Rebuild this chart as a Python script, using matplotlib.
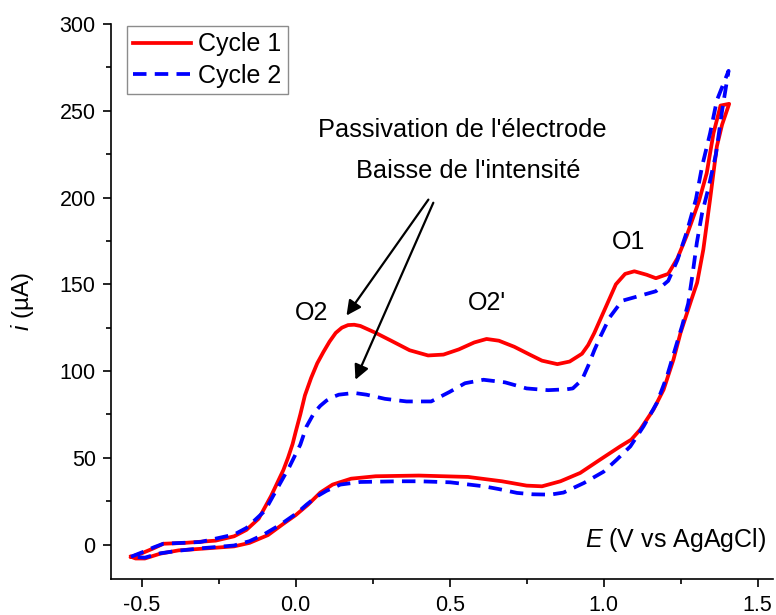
import matplotlib
matplotlib.use('Agg')
import matplotlib.pyplot as plt
from matplotlib.ticker import MultipleLocator

plt.rcParams['font.family'] = ['Liberation Sans', 'DejaVu Sans']
plt.rcParams['mathtext.fontset'] = 'custom'
plt.rcParams['mathtext.rm'] = 'Liberation Sans'
plt.rcParams['mathtext.it'] = 'Liberation Sans:italic'

# Cycle 1 : aller (anodique) puis retour
E1 = [-0.535, -0.50, -0.46, -0.43, -0.36, -0.26, -0.20, -0.16, -0.12, -0.08,
      -0.04, -0.025, -0.01, 0.0, 0.015, 0.03, 0.05, 0.07, 0.09, 0.11,
      0.13, 0.15, 0.17, 0.19, 0.21, 0.235, 0.26, 0.31,
      0.37, 0.43, 0.48, 0.53, 0.58, 0.62, 0.66, 0.71, 0.76, 0.80,
      0.85, 0.89, 0.93, 0.95, 0.97, 0.99, 1.01, 1.04, 1.07, 1.10, 1.14, 1.17,
      1.21, 1.24, 1.27, 1.29, 1.31, 1.335, 1.357, 1.38, 1.408,
      1.385, 1.368, 1.346, 1.324, 1.304, 1.285, 1.25, 1.227, 1.195, 1.162,
      1.119, 1.09, 1.054, 0.989, 0.924, 0.86, 0.80, 0.75, 0.67, 0.56,
      0.40, 0.26, 0.18, 0.12, 0.08, 0.04, 0.0, -0.04, -0.09, -0.15,
      -0.20, -0.30, -0.38, -0.44, -0.49, -0.52, -0.535]
I1 = [-7, -5, -2, 0.5, 1, 2.3, 4.8, 8.5, 15, 28,
      43, 50, 58, 65, 75, 86, 96, 104.5, 111, 117,
      122, 125, 126.5, 126.7, 126, 124, 122, 117.5,
      112, 109, 109.5, 112.5, 116.5, 118.5, 117.5, 114, 109.5, 106,
      104, 105.5, 110, 115, 122, 130, 138, 150, 156, 157.5, 155.5, 153.5,
      156, 165, 178, 188, 198, 214, 237, 253, 254,
      242, 229.5, 199, 170, 151, 141, 122, 106.6, 89.3, 77.8,
      66.3, 60.5, 56.6, 49, 41.3, 36.5, 33.6, 34, 36.5, 39,
      39.8, 39.4, 38, 34.6, 30, 23, 17, 12, 5.5, 1,
      -1, -2.3, -3.3, -5.2, -8, -8, -7]

# Cycle 2
E2 = [-0.535, -0.50, -0.46, -0.43, -0.31, -0.20, -0.16, -0.10, -0.05, -0.02,
      0.015, 0.035, 0.06, 0.08, 0.10, 0.12, 0.14, 0.19, 0.23, 0.29, 0.36, 0.44, 0.50,
      0.55, 0.61, 0.68, 0.75, 0.82, 0.88, 0.90, 0.93, 0.95, 0.97, 0.99, 1.02,
      1.06, 1.11, 1.17, 1.21, 1.24, 1.27, 1.30, 1.32, 1.346, 1.368, 1.406,
      1.385, 1.365, 1.34, 1.32, 1.303, 1.29, 1.275, 1.255, 1.238, 1.206,
      1.173, 1.13, 1.087, 1.043, 1.0, 0.936, 0.87, 0.827, 0.77, 0.719,
      0.66, 0.611, 0.502, 0.40, 0.34, 0.21, 0.145, 0.10, 0.069, 0.035,
      0.005, -0.05, -0.104, -0.15, -0.20, -0.30, -0.38, -0.44, -0.49, -0.535]
I2 = [-7, -4.5, -1.5, 0.5, 1.5, 5.8, 9.6, 19.5, 35.5, 45,
      57.6, 68, 76, 80, 83, 85, 86.4, 87.4, 86.4, 84, 82.5, 82.5, 88,
      93, 95, 93.5, 90, 89, 89.5, 90, 95, 103, 112, 120, 131,
      140.5, 143, 146, 152, 164, 180, 199, 218, 237, 256, 273,
      250, 225, 205, 191, 174, 157, 139, 126, 116, 97,
      81.6, 68.2, 56.6, 49, 42, 35.5, 30, 28.8, 29, 29.8,
      32, 33.6, 35.9, 36.5, 36.5, 36.1, 34.6, 31, 27.8, 23,
      18.3, 11.5, 5.8, 2, -0.5, -2, -3.5, -5, -7.5, -7]

fig = plt.figure(figsize=(7.76, 6.15), dpi=100)
ax = fig.add_axes([0.143, 0.058, 0.853, 0.903])

ax.plot(E1, I1, color='#ff0000', lw=2.7, label='Cycle 1')
ax.plot(E2, I2, color='#0000ff', lw=2.7, dashes=(3.6, 2.2), label='Cycle 2')

ax.set_xlim(-0.6, 1.55)
ax.set_ylim(-20, 300)
ax.xaxis.set_major_locator(MultipleLocator(0.5))
ax.xaxis.set_minor_locator(MultipleLocator(0.25))
ax.yaxis.set_major_locator(MultipleLocator(50))
ax.yaxis.set_minor_locator(MultipleLocator(25))
ax.xaxis.set_major_formatter(matplotlib.ticker.FormatStrFormatter('%.1f'))

ax.spines['top'].set_visible(False)
ax.spines['right'].set_visible(False)
for s in ('left', 'bottom'):
    ax.spines[s].set_linewidth(1.2)
ax.tick_params(which='major', length=6, width=1.2, labelsize=15.5, pad=5)
ax.tick_params(which='minor', length=3.5, width=1.2)

ax.set_ylabel(r'$i$ (µA)', fontsize=17.5, labelpad=17)
ax.text(0.99, 0.07, r'$E$ (V vs AgAgCl)', transform=ax.transAxes,
        ha='right', va='center', fontsize=18)

ax.text(0.052, 133.6, 'O2', fontsize=18, ha='center', va='center')
ax.text(0.622, 139.4, "O2'", fontsize=18, ha='center', va='center')
ax.text(1.08, 174.6, 'O1', fontsize=18, ha='center', va='center')
ax.text(0.541, 239, "Passivation de l'électrode", fontsize=18.3, ha='center', va='center')
ax.text(0.561, 215.5, "Baisse de l'intensité", fontsize=18.3, ha='center', va='center')

arrow = dict(arrowstyle='-|>', mutation_scale=22, lw=1.6, color='k',
             shrinkA=0, shrinkB=0)
ax.annotate('', xy=(0.165, 132), xytext=(0.431, 198.8), arrowprops=arrow)
ax.annotate('', xy=(0.194, 95), xytext=(0.447, 197), arrowprops=arrow)

leg = ax.legend(loc='upper left', bbox_to_anchor=(0.024, 0.996), fontsize=18,
                frameon=True, fancybox=False, borderaxespad=0, borderpad=0.25,
                labelspacing=0.3, handlelength=2.3, handletextpad=0.3)
leg.get_frame().set_edgecolor('#707070')
leg.get_frame().set_linewidth(1.0)

fig.savefig('out.png', dpi=100)
